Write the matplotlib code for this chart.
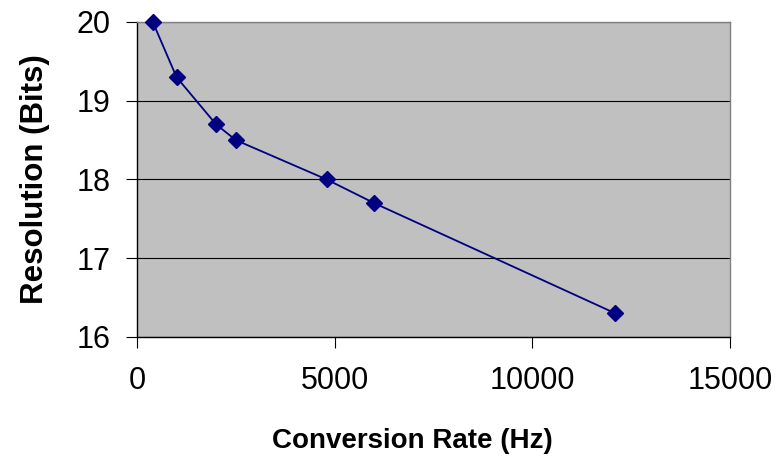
import matplotlib
matplotlib.use("Agg")
import matplotlib.pyplot as plt

# conversion rate (Hz) vs resolution (bits)
rate = [400, 1000, 2000, 2500, 4800, 6000, 12100]
resolution = [20.0, 19.3, 18.7, 18.5, 18.0, 17.7, 16.3]

plt.rcParams['font.family'] = ['Liberation Sans', 'DejaVu Sans']

fig = plt.figure(figsize=(7.81, 4.61), dpi=100)
ax = fig.add_axes([0.1754, 0.269, 0.7593, 0.6833])
ax.set_facecolor('#C0C0C0')

ax.plot(rate, resolution, color='#000080', linewidth=1.3,
        marker='D', markersize=8, markerfacecolor='#000080',
        markeredgecolor='#000080', zorder=3, clip_on=False)

ax.set_xlim(0, 15000)
ax.set_ylim(16, 20)
ax.set_xticks([0, 5000, 10000, 15000])
ax.set_yticks([16, 17, 18, 19, 20])
ax.yaxis.grid(True, color='black', linewidth=0.8)
ax.set_axisbelow(True)

for s in ax.spines.values():
    s.set_color('#808080')
    s.set_linewidth(1)
ax.spines['left'].set_color('black')
ax.spines['bottom'].set_color('black')

ax.tick_params(axis='both', labelsize=22, length=8, color='black', direction='out')
ax.tick_params(axis='y', pad=11)
ax.tick_params(axis='x', pad=13)

ax.set_xlabel('Conversion Rate (Hz)', fontsize=20, fontweight='bold')
ax.set_ylabel('Resolution (Bits)', fontsize=22.5, fontweight='bold')
ax.xaxis.set_label_coords(0.464, -0.33)
ax.yaxis.set_label_coords(-0.172, 0.5)
ax.xaxis.label.set_va('center')
ax.yaxis.label.set_va('center')

fig.savefig('out.png', dpi=100)
